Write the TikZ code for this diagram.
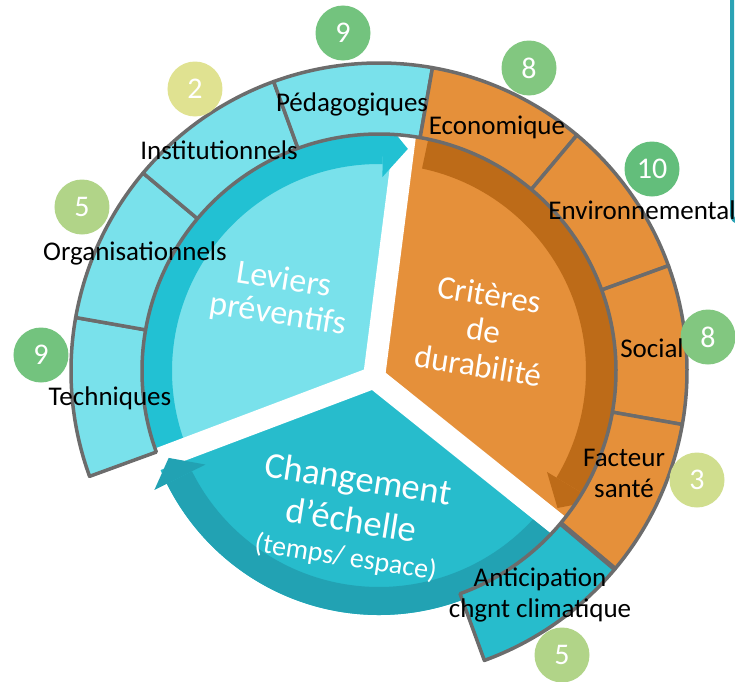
\documentclass[tikz,border=0pt]{standalone}
\usepackage{fontspec}
\setmainfont{Carlito}
\usepackage{tikz}

\definecolor{levlight}{RGB}{121,225,235}
\definecolor{levband}{RGB}{34,193,211}
\definecolor{critlight}{RGB}{229,144,58}
\definecolor{critband}{RGB}{189,107,24}
\definecolor{chglight}{RGB}{39,188,204}
\definecolor{chgband}{RGB}{34,162,179}
\definecolor{ringgrey}{RGB}{108,108,108}
\definecolor{frameline}{RGB}{43,163,181}
\definecolor{scgreen}{RGB}{99,190,123}
\definecolor{scyellow}{RGB}{255,235,150}

\begin{document}
\begin{tikzpicture}[x=1pt, y=1pt,
  seg/.style={draw=ringgrey, line width=3.5pt, line join=round},
  ringlabel/.style={font=\fontsize{27}{31}\selectfont, align=center, inner sep=0pt},
  score/.style={circle, minimum size=55pt, inner sep=0pt, text=white,
    font=\fontsize{30}{30}\selectfont},
  hub/.style={text=white, align=center, inner sep=0pt, rotate=-9}]

\useasboundingbox (-379,-310) rectangle (356,371);
\clip (-379,-310) rectangle (356,371);

% edge of the next box, top right
\draw[frameline, line width=4pt, rounded corners=7pt] (353,400) -- (353,149) -- (400,149);

%% Leviers preventifs
\begin{scope}
 \clip (-5,-6.5) -- +(82.7:600) -- +(141.7:800) -- +(200.7:600) -- cycle;
 \fill[levlight] (0,0) circle [radius=237];
 \fill[levband] (215:237) arc [start angle=215, end angle=89, radius=237]
   -- (89:207) arc [start angle=89, end angle=215, radius=207] -- cycle;
\end{scope}

%% Criteres de durabilite
\begin{scope}
 \clip (-5,-6.5) -- +(82.7:600) -- +(22:800) -- +(-38.7:600) -- cycle;
 \fill[critlight] (0,0) circle [radius=237];
 \fill[critband] (78:237) arc [start angle=78, end angle=-31, radius=237]
   -- (-31:207) arc [start angle=-31, end angle=78, radius=207] -- cycle;
\end{scope}

%% Changement d'echelle (pushed down a little)
\begin{scope}
 \clip (-5,-6.5) -- +(200.7:600) -- +(261:800) -- +(321.3:600) -- cycle;
 \begin{scope}[shift={(0,-7)}]
  \fill[chglight] (0,0) circle [radius=237];
  \fill[chgband] (-42:237) arc [start angle=-42, end angle=-153.5, radius=237]
    -- (-153.5:209) arc [start angle=-153.5, end angle=-42, radius=209] -- cycle;
 \end{scope}
\end{scope}

% white gaps between the three parts
\foreach \a in {82.7, 200.7, -38.7}
  \draw[white, line width=22pt] (-5,-6.5) -- +(\a:265);

% arrow heads
\fill[levband] (89:194) -- (89:252) -- (82.6:224) -- cycle;
\fill[critband] (-31:196) -- (-31:252) -- (-37.5:225) -- cycle;
\fill[chgband, shift={(0,-7)}] (206.5:194) -- (206.5:251) -- (200.8:225) -- cycle;

%% outer ring
\foreach \s/\e/\c in {170/200/levlight, 140/170/levlight, 110/140/levlight,
    80/110/levlight, 50/80/critlight, 20/50/critlight, -10/20/critlight,
    -40/-10/critlight, -70/-40/chglight}
  \filldraw[seg, fill=\c] (\s:237) arc [start angle=\s, end angle=\e, radius=237]
    -- (\e:308) arc [start angle=\e, end angle=\s, radius=308] -- cycle;
\draw[ringgrey, line width=5pt] (-40:237) -- (-40:308);

%% scores
\foreach \nm/\x/\y/\v in {pedago/-36/338/9, instit/-184/282/2, organ/-297/164/5,
    techn/-338/16/9, econ/150/303/8, envir/273/202/10, soc/329/34/8,
    sante/318/-109/3, clim/183/-284/5}
  \node[score, fill=scgreen!\v0!scyellow] (n\nm) at (\x,\y) {\v};

%% ring labels
\node[ringlabel] (pedago) at (-27,267) {Pédagogiques};
\node[ringlabel] (instit) at (-160,221) {Institutionnels};
\node[ringlabel] (organ) at (-244,118) {Organisationnels};
\node[ringlabel] (techn) at (-269,-27) {Techniques};
\node[ringlabel] (econ) at (118,244) {Economique};
\node[ringlabel] (envir) at (263,161) {Environnemental};
\node[ringlabel] (soc) at (273,23) {Social};
\node[ringlabel] (sante) at (245,-102) {Facteur\\santé};
\node[ringlabel] (clim) at (161,-224) {Anticipation\\chgnt climatique};

%% inner labels
\node[hub, font=\fontsize{34}{35}\selectfont] (leviers) at (-98,73) {Leviers\\préventifs};
\node[hub, font=\fontsize{33}{36}\selectfont] (criteres) at (105,41) {Critères\\de\\durabilité};
\node[hub, font=\fontsize{36.5}{42}\selectfont] (changement) at (-27,-147)
  {Changement\\d’échelle\\[-8pt]{\fontsize{28}{32}\selectfont (temps/ espace)}};

\end{tikzpicture}
\end{document}
